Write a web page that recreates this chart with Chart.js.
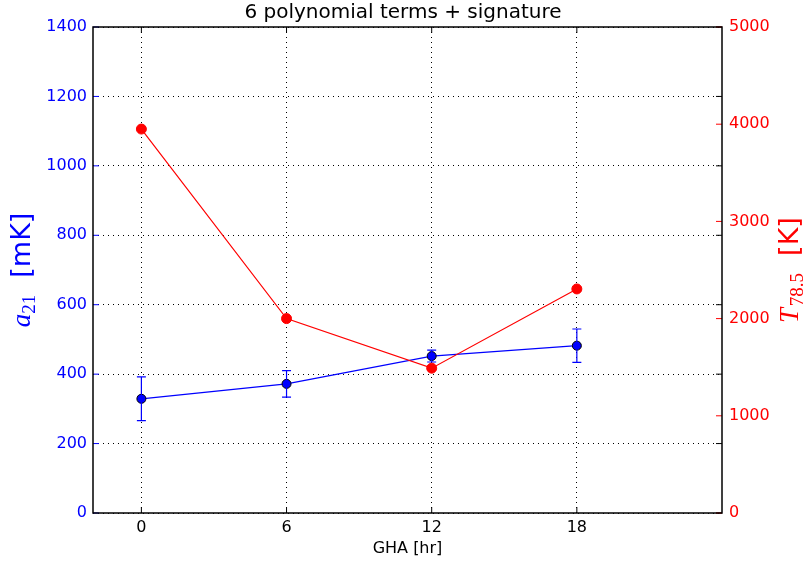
<!DOCTYPE html>
<html>
<head>
<meta charset="utf-8">
<script src="https://cdn.jsdelivr.net/npm/chart.js@4.4.1/dist/chart.umd.min.js"></script>
<style>html,body{margin:0;padding:0;background:#fff}</style>
</head>
<body>
<canvas id="c" width="806" height="567"></canvas>
<script>
// valores
const gha = [0, 6, 12, 18];
const a21 = [329, 372, 452, 482];
const a21Err = [63, 38, 17, 48];
const t785 = [3950, 2000, 1490, 2305];
const leftTicks = [0, 200, 400, 600, 800, 1000, 1200, 1400];
const rightTicks = [0, 1000, 2000, 3000, 4000, 5000];

Chart.defaults.font.family = '"DejaVu Sans", sans-serif';

// barras de erro da série azul
const errorBars = {
    id: 'errorBars',
    afterDatasetDraw(chart, args) {
        if (args.index !== 1) return;
        const ctx = chart.ctx, xs = chart.scales.x, ys = chart.scales.y;
        ctx.save();
        ctx.strokeStyle = '#0000ff';
        ctx.lineWidth = 1.2;
        gha.forEach((g, i) => {
            const x = xs.getPixelForValue(g);
            const yt = ys.getPixelForValue(a21[i] + a21Err[i]);
            const yb = ys.getPixelForValue(a21[i] - a21Err[i]);
            ctx.beginPath();
            ctx.moveTo(x, yt); ctx.lineTo(x, yb);
            ctx.moveTo(x - 4.5, yt); ctx.lineTo(x + 4.5, yt);
            ctx.moveTo(x - 4.5, yb); ctx.lineTo(x + 4.5, yb);
            ctx.stroke();
        });
        ctx.restore();
    }
};

function rotLabel(ctx, baseX, cy, parts, color) {
    ctx.save();
    ctx.translate(baseX, cy);
    ctx.rotate(-Math.PI / 2);
    ctx.fillStyle = color;
    ctx.textBaseline = 'alphabetic';
    ctx.textAlign = 'left';
    let total = 0;
    parts.forEach(p => { ctx.font = p.f; p.w = ctx.measureText(p.t).width; total += p.w; });
    let x = -total / 2;
    parts.forEach(p => { ctx.font = p.f; ctx.fillText(p.t, x, p.dy); x += p.w; });
    ctx.restore();
}

// moldura, ticks para dentro e títulos dos eixos y
const frame = {
    id: 'frame',
    afterDraw(chart) {
        const ctx = chart.ctx;
        const {left, right, top, bottom} = chart.chartArea;
        const xs = chart.scales.x, ys = chart.scales.y, y2 = chart.scales.y2;
        const seg = (x1, y1, x2, y2_, c) => {
            ctx.strokeStyle = c; ctx.beginPath(); ctx.moveTo(x1, y1); ctx.lineTo(x2, y2_); ctx.stroke();
        };
        ctx.save();
        ctx.lineWidth = 1;
        leftTicks.forEach(v => {
            const p = ys.getPixelForValue(v);
            seg(left, p, left + 6, p, '#0000ff');
            seg(right, p, right - 6, p, '#000');
        });
        rightTicks.forEach(v => {
            const p = y2.getPixelForValue(v);
            seg(right, p, right - 6, p, '#ff0000');
        });
        gha.forEach(g => {
            const p = xs.getPixelForValue(g);
            seg(p, bottom, p, bottom - 6, '#000');
            seg(p, top, p, top + 6, '#000');
        });
        ctx.lineWidth = 1.5;
        ctx.strokeStyle = '#000';
        ctx.strokeRect(left, top, right - left, bottom - top);
        ctx.restore();

        const cy = (top + bottom) / 2;
        rotLabel(ctx, 29.5, cy, [
            {t: 'a', f: 'italic 27px "Liberation Serif"', dy: 0},
            {t: '21', f: '19px "Liberation Serif"', dy: 5},
            {t: '  [mK]', f: '27px "DejaVu Sans"', dy: 0}
        ], '#0000ff');
        rotLabel(ctx, 798, cy, [
            {t: 'T', f: 'italic 27px "Liberation Serif"', dy: 0},
            {t: '\u200A78.5', f: '19px "Liberation Serif"', dy: 5},
            {t: '  [K]', f: '27px "DejaVu Sans"', dy: 0}
        ], '#ff0000');
    }
};

const plain = v => String(v);

const config = {
    type: 'scatter',
    data: {
        datasets: [{
            label: 'T78.5',
            data: gha.map((g, i) => ({x: g, y: t785[i]})),
            yAxisID: 'y2',
            showLine: true,
            borderColor: '#ff0000',
            borderWidth: 1.2,
            backgroundColor: '#ff0000',
            pointBackgroundColor: '#ff0000',
            pointBorderColor: '#ff0000',
            pointRadius: 5,
            pointBorderWidth: 1
        }, {
            label: 'a21',
            data: gha.map((g, i) => ({x: g, y: a21[i]})),
            yAxisID: 'y',
            showLine: true,
            borderColor: '#0000ff',
            borderWidth: 1.2,
            backgroundColor: '#0000ff',
            pointBackgroundColor: '#0000ff',
            pointBorderColor: '#000',
            pointRadius: 4.5,
            pointBorderWidth: 1
        }]
    },
    options: {
        responsive: false,
        animation: false,
        devicePixelRatio: 1,
        layout: {padding: 0},
        plugins: {
            legend: {display: false},
            tooltip: {enabled: false},
            title: {
                display: true,
                text: '6 polynomial terms + signature',
                color: '#000',
                font: {size: 20, weight: 'normal'},
                padding: {top: 1, bottom: 2}
            }
        },
        scales: {
            x: {
                type: 'linear',
                min: -2,
                max: 24,
                afterBuildTicks(s) { s.ticks = gha.map(v => ({value: v})); },
                afterFit(s) { s.height = 54; },
                grid: {color: '#000', lineWidth: 1, drawTicks: false},
                border: {display: false, dash: [1, 4]},
                ticks: {color: '#000', font: {size: 16}, padding: 5, maxRotation: 0, callback: plain},
                title: {display: true, text: 'GHA [hr]', color: '#000', font: {size: 16}, padding: {top: 9, bottom: 9}}
            },
            y: {
                position: 'left',
                min: 0,
                max: 1400,
                afterBuildTicks(s) { s.ticks = leftTicks.map(v => ({value: v})); },
                afterFit(s) { s.width = 93; },
                grid: {color: '#000', lineWidth: 1, drawTicks: false},
                border: {display: false, dash: [1, 4]},
                ticks: {color: '#0000ff', font: {size: 16}, padding: 6, callback: plain}
            },
            y2: {
                position: 'right',
                min: 0,
                max: 5000,
                afterBuildTicks(s) { s.ticks = rightTicks.map(v => ({value: v})); },
                afterFit(s) { s.width = 84; },
                grid: {display: false, drawTicks: false},
                border: {display: false},
                ticks: {color: '#ff0000', font: {size: 16}, padding: 7, callback: plain}
            }
        }
    },
    plugins: [errorBars, frame]
};

new Chart(document.getElementById('c').getContext('2d'), config);
</script>
</body>
</html>
